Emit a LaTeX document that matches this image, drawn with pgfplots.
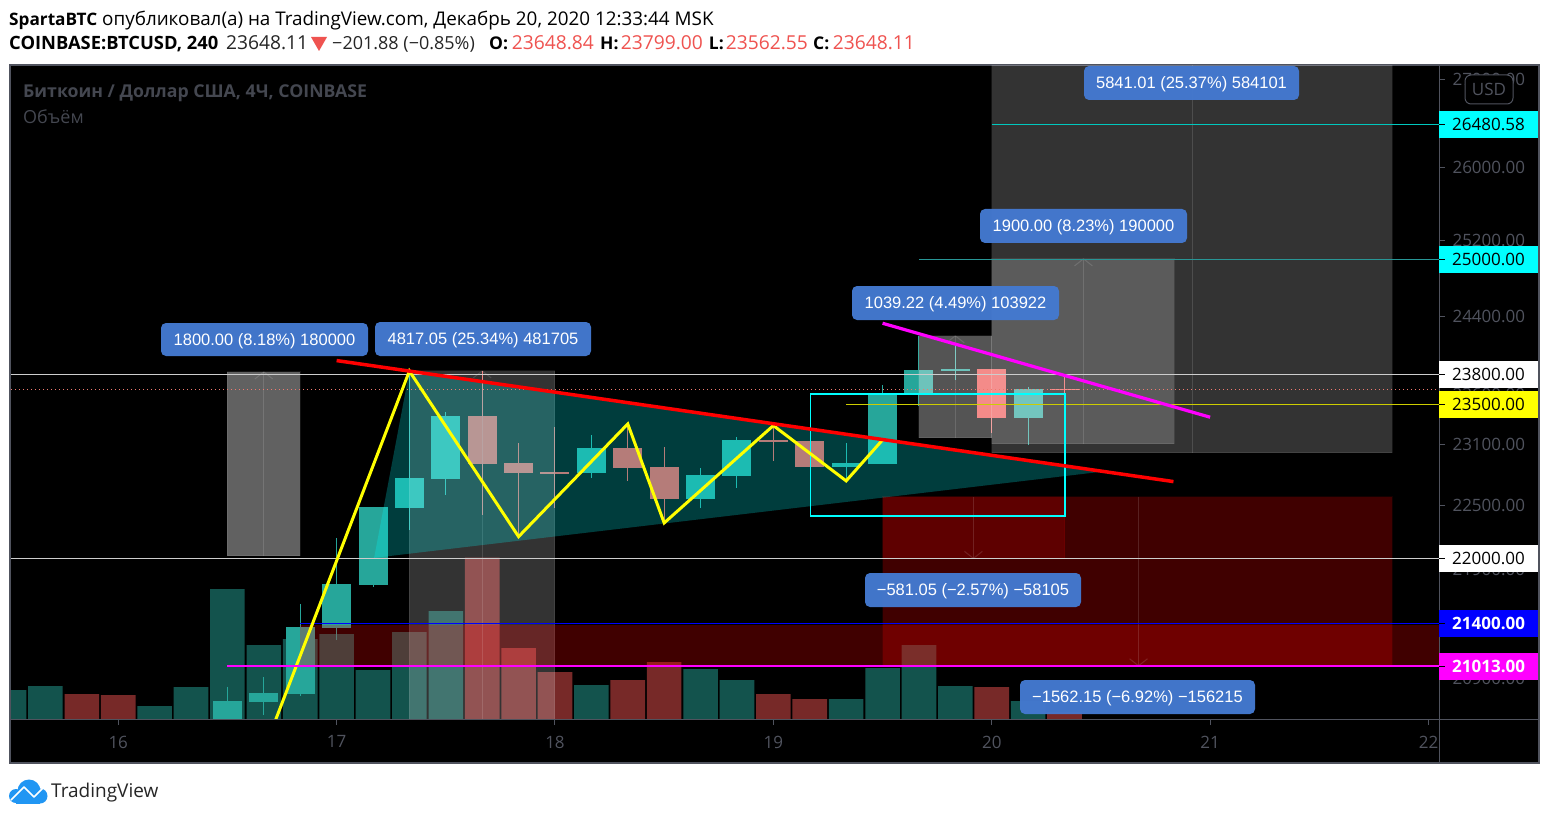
\documentclass[border=0pt]{standalone}
\usepackage{fontspec}
\usepackage{pgfplots}
\pgfplotsset{compat=1.18}
\setmainfont{Open Sans}
\newfontfamily\lib{Liberation Sans}
\newcommand\fs[1]{\fontsize{#1}{#1}\selectfont}
\definecolor{upc}{HTML}{26A69A}
\definecolor{dnc}{HTML}{EF5350}
\definecolor{volup}{HTML}{13534D}
\definecolor{voldn}{HTML}{772928}
\definecolor{fr}{HTML}{50535E}
\definecolor{lbl}{HTML}{4479D0}
\definecolor{hdr}{HTML}{EF5350}
\definecolor{dot}{HTML}{EF7A70}
\definecolor{cy}{RGB}{0,255,255}
\definecolor{mg}{RGB}{255,0,255}
\definecolor{yl}{RGB}{255,255,0}
\definecolor{bl}{RGB}{0,0,255}
\definecolor{rd}{RGB}{255,0,0}
\definecolor{logo}{HTML}{2196F3}
\definecolor{lvlA}{RGB}{0,200,190}
\definecolor{lvlB}{RGB}{40,150,150}
\definecolor{lvlG}{RGB}{205,205,205}
\definecolor{lvlY}{RGB}{205,205,0}
% prices are in thousands of USD
% one candle: day, open, close, high, low, colour
\newcommand\candle[6]{%
  \pgfmathsetmacro\xa{#1-0.0664}\pgfmathsetmacro\xb{#1+0.0664}%
  \addplot[draw=#6,line width=1pt] coordinates {(#1,#4)(#1,#5)};
  \addplot[fill=#6,draw=none] coordinates {(\xa,#2)(\xb,#2)(\xb,#3)(\xa,#3)} --cycle;
}
% translucent measure box: x0,x1,p0,p1,colour,opacity
\newcommand\zone[6]{%
  \addplot[fill=#5,fill opacity=#6,draw=#5,draw opacity=0.08,line width=1pt] coordinates {(#1,#3)(#2,#3)(#2,#4)(#1,#4)} --cycle;
}
% centre line and chevron of a measure box: x, from, to, chevron side price
\newcommand\measure[4]{%
  \pgfmathsetmacro\xa{#1-0.041}\pgfmathsetmacro\xb{#1+0.041}%
  \addplot[draw=white,draw opacity=0.13,line width=1pt] coordinates {(#1,#2)(#1,#3)};
  \addplot[draw=white,draw opacity=0.13,line width=1pt] coordinates {(\xa,#4)(#1,#3)(\xb,#4)};
}
\newcommand\lab[5]{%
  \fill[lbl,rounded corners=5pt,fill opacity=0.97] (#1,#3) rectangle (#2,#4);
  \node[white,font=\lib\fs{16.5},inner sep=0pt] at ({(#1+#2)/2},{(#3+#4)/2+1.5}) {#5};
}
\newcommand\tagbox[5]{% y, fill, text colour, text, bold
  \fill[#2] (1439,#1-13.5) rectangle (1538,#1+13.5);
  \draw[black,line width=1pt] (1439,#1) -- (1445,#1);
  \node[#3,anchor=west,font=\fs{17}#5,inner sep=0pt] at (1452,#1) {#4};
}
\begin{document}
\begin{tikzpicture}
\begin{scope}[x=1pt,y=-1pt]
  \path (0,0) rectangle (1549,818);
  \fill[white] (0,0) rectangle (1549,818);
  \fill[black,draw=fr,line width=2pt] (10,65) rectangle (1539,763);
\end{scope}
% volume pane
\begin{axis}[at={(11pt,-719.5pt)},anchor=south west,scale only axis,width=1428pt,height=653.5pt,
  xmin=15.509,xmax=22.048,ymin=0,ymax=653.5,hide axis,clip=true]
\addplot[ybar,bar shift=0pt,bar width=34.6pt,fill=volup,draw=none] coordinates {
 (15.5,29.3)(15.6667,33.3)(16.1667,13.3)(16.3333,32.3)(16.5,130.3)(16.6667,74.3)(16.8333,80.3)
 (17,85.3)(17.1667,49.3)(17.3333,87.3)(17.5,108.3)(18.1667,34.3)(18.6667,50.3)(18.8333,39.3)
 (19.3333,20.3)(19.5,51.3)(19.6667,74.3)(19.8333,33.3)(20.1667,18.3)};
\addplot[ybar,bar shift=0pt,bar width=34.6pt,fill=voldn,draw=none] coordinates {
 (15.8333,25.3)(16,24.3)(17.6667,162)(17.8333,71.3)(18,47.3)(18.3333,39.3)(18.5,57.3)
 (19,25.3)(19.1667,20.3)(20,32.3)(20.3333,7.3)};
\end{axis}
% price pane
\begin{axis}[at={(11pt,-719.5pt)},anchor=south west,scale only axis,width=1428pt,height=653.5pt,
  xmin=15.509,xmax=22.048,ymode=log,ymin=20.537,ymax=27.155,clip=true,
  axis x line*=bottom,axis y line*=right,axis line style={draw=fr,line width=1pt},
  xtick={16,17,18,19,20,21,22},xticklabels={16,17,18,19,20,21,22},
  ytick={27,26,25.2,24.4,23.6,23.1,22.5,21.9,20.9},
  yticklabels={27000.00,26000.00,25200.00,24400.00,23600.00,23100.00,22500.00,21900.00,20900.00},
  yminorticks=false,xminorticks=false,
  tick align=outside,major tick length=6pt,tick style={draw=fr,line width=1pt},
  tick label style={font=\fs{17},text=fr},
  xticklabel style={yshift=-7pt},yticklabel style={xshift=4pt}]
% candles
\candle{16.5}{20.500}{20.700}{20.827}{20.500}{upc}
\candle{16.6667}{20.691}{20.771}{20.914}{20.577}{upc}
\candle{16.8333}{20.762}{21.365}{21.576}{20.745}{upc}
\candle{17}{21.358}{21.762}{22.194}{21.247}{upc}
\candle{17.1667}{21.752}{22.490}{22.490}{21.734}{upc}
\candle{17.3333}{22.480}{22.770}{23.835}{22.270}{upc}
\candle{17.5}{22.760}{23.381}{23.421}{22.605}{upc}
\candle{17.6667}{23.381}{22.906}{23.835}{22.413}{dnc}
\candle{17.8333}{22.916}{22.819}{23.113}{22.203}{dnc}
\candle{18}{22.829}{22.812}{23.272}{22.480}{dnc}
\candle{18.1667}{22.819}{23.064}{23.192}{22.770}{upc}
\candle{18.3333}{23.064}{22.868}{23.292}{22.741}{dnc}
\candle{18.5}{22.877}{22.567}{23.074}{22.336}{dnc}
\candle{18.6667}{22.567}{22.799}{22.868}{22.480}{upc}
\candle{18.8333}{22.790}{23.143}{23.172}{22.673}{upc}
\candle{19}{23.143}{23.123}{23.292}{22.936}{dnc}
\candle{19.1667}{23.133}{22.877}{23.133}{22.877}{dnc}
\candle{19.3333}{22.877}{22.916}{23.113}{22.751}{upc}
\candle{19.5}{22.906}{23.602}{23.693}{22.906}{upc}
\candle{19.6667}{23.602}{23.846}{24.195}{23.481}{upc}
\candle{19.8333}{23.835}{23.856}{24.102}{23.744}{upc}
\candle{20}{23.856}{23.361}{23.856}{23.212}{dnc}
\candle{20.1667}{23.361}{23.653}{23.673}{23.093}{upc}
\candle{20.3333}{23.653}{23.643}{23.799}{23.562}{dnc}
% measure boxes
\zone{16.4998}{16.834}{23.825}{22.024}{white}{0.38}
\zone{17.3333}{18}{23.835}{20.400}{white}{0.2}
\zone{19.6667}{20}{24.195}{23.163}{white}{0.33}
\zone{20}{20.8365}{25.005}{23.103}{white}{0.2}
\zone{20}{21.835}{27.500}{23.015}{white}{0.2}
\zone{19.5}{21.835}{22.586}{21.013}{rd}{0.25}
\zone{19.5}{20.3333}{22.586}{22.000}{rd}{0.16}
\addplot[fill=rd,fill opacity=0.25,draw=none] coordinates {(16.833,21.384)(22.05,21.384)(22.05,21.013)(16.833,21.013)} --cycle;
\measure{16.6667}{22.024}{23.825}{23.754}
\measure{17.6667}{20.400}{23.835}{23.764}
\measure{19.8333}{23.163}{24.195}{24.123}
\measure{20.42}{23.103}{25.005}{24.930}
\measure{20.919}{23.015}{27.500}{27.400}
\measure{19.916}{22.586}{22.000}{22.066}
\measure{20.672}{22.586}{21.013}{21.076}
% triangle
\addplot[fill=cy,fill opacity=0.24,draw=none] coordinates {(17.3333,23.835)(20.4975,22.829)(17.1718,22.005)} --cycle;
% horizontal levels
\addplot[draw=lvlA,line width=1pt] coordinates {(20,26.48058)(22.05,26.48058)};
\addplot[draw=lvlB,line width=1pt] coordinates {(19.6667,25)(22.05,25)};
\addplot[draw=lvlG,line width=1pt] coordinates {(15.509,23.8)(22.05,23.8)};
\addplot[draw=lvlG,line width=1pt] coordinates {(15.509,22)(22.05,22)};
\addplot[draw=dot,line width=1pt,dash pattern=on 1pt off 3pt] coordinates {(15.509,23.64811)(22.05,23.64811)};
\addplot[draw=lvlY,line width=1pt] coordinates {(19.3333,23.5)(22.05,23.5)};
\addplot[draw=bl,line width=1pt] coordinates {(16.833,21.4)(22.05,21.4)};
% cyan frame
\addplot[draw=cy,line width=1.2pt] coordinates {(19.17,23.602)(20.335,23.602)(20.335,22.403)(19.17,22.403)} --cycle;
% trend lines
\addplot[draw=yl,line width=3pt,line join=miter] coordinates {(16.7215,20.537)(17.3333,23.835)(17.8333,22.206)(18.3333,23.301)(18.5,22.336)(19,23.285)(19.3333,22.741)(19.5,23.143)};
\addplot[draw=rd,line width=3.5pt] coordinates {(17,23.941)(20.832,22.734)};
\addplot[draw=mg,line width=3.2pt] coordinates {(19.5,24.326)(21,23.368)};
\addplot[draw=mg,draw opacity=1,line width=1.6pt] coordinates {(16.5,21.009)(22.05,21.009)};
\end{axis}
\begin{scope}[x=1pt,y=-1pt]
  % pane dividers
  \draw[fr,line width=1pt] (1439,66) -- (1439,763);
  \draw[fr,line width=1pt] (11,719.5) -- (1539,719.5);
  % USD badge
  \draw[fr,fill=black,rounded corners=6pt,line width=1pt] (1465,75) rectangle (1513,104);
  \node[fr,font=\fs{17},inner sep=0pt] at (1489,89) {USD};
  % price tags
  \tagbox{124.5}{cy}{black}{26480.58}{}
  \tagbox{259.5}{cy}{black}{25000.00}{}
  \tagbox{374.5}{white}{black}{23800.00}{}
  \tagbox{404.5}{yl}{black}{23500.00}{}
  \tagbox{558.5}{white}{black}{22000.00}{}
  \tagbox{623.5}{bl}{white}{21400.00}{\bfseries}
  \tagbox{666.5}{mg}{white}{21013.00}{\bfseries}
  % measure labels
  \lab{161}{368}{323}{356}{1800.00 (8.18\%) 180000}
  \lab{375}{591}{322}{356}{4817.05 (25.34\%) 481705}
  \lab{852}{1059}{286}{320}{1039.22 (4.49\%) 103922}
  \lab{980}{1187}{209}{243}{1900.00 (8.23\%) 190000}
  \lab{1084}{1299}{66}{100}{5841.01 (25.37\%) 584101}
  \lab{865}{1081}{573}{607}{−581.05 (−2.57\%) −58105}
  \lab{1020}{1255}{680}{714}{−1562.15 (−6.92\%) −156215}
  % pane title
  \node[anchor=base west,inner sep=0pt,text=fr!85!black,font=\bfseries\fs{17.7}] at (23,98) {Биткоин / Доллар США, 4Ч, COINBASE};
  \node[anchor=base west,inner sep=0pt,text=fr!85!black,font=\fs{18}] at (23,124) {Объём};
  % header
  \node[anchor=base west,inner sep=0pt,text=black,font=\bfseries\fs{17.2}] at (9,25.5) {SpartaBTC};
  \node[anchor=base west,inner sep=0pt,text=black,font=\fs{18.85}] at (102,25.5) {опубликовал(а) на TradingView.com, Декабрь 20, 2020 12:33:44 MSK};
  \node[anchor=base west,inner sep=0pt,text=black,font=\bfseries\fs{18.35}] at (9,50) {COINBASE:BTCUSD, 240};
  \node[anchor=base west,inner sep=0pt,text=black!85,font=\fs{19.2}] at (226,50) {23648.11};
  \fill[hdr] (311,37) -- (327,37) -- (319,51) -- cycle;
  \node[anchor=base west,inner sep=0pt,text=black!85,font=\fs{18}] at (332,50) {−201.88 (−0.85\%)};
  \node[anchor=base west,inner sep=0pt,text=black,font=\bfseries\fs{17.5}] at (489,50) {O:};
  \node[anchor=base west,inner sep=0pt,text=hdr,font=\fs{19.2}] at (511.7,50) {23648.84};
  \node[anchor=base west,inner sep=0pt,text=black,font=\bfseries\fs{17.5}] at (600,50) {H:};
  \node[anchor=base west,inner sep=0pt,text=hdr,font=\fs{19.2}] at (620.7,50) {23799.00};
  \node[anchor=base west,inner sep=0pt,text=black,font=\bfseries\fs{17.5}] at (708.7,50) {L:};
  \node[anchor=base west,inner sep=0pt,text=hdr,font=\fs{19.2}] at (725.7,50) {23562.55};
  \node[anchor=base west,inner sep=0pt,text=black,font=\bfseries\fs{17.5}] at (813,50) {C:};
  \node[anchor=base west,inner sep=0pt,text=hdr,font=\fs{19.2}] at (832.7,50) {23648.11};
  % logo
  \fill[logo] (29,791) circle (11.5);
  \fill[logo] (16,796) circle (7);
  \fill[logo] (40,796) circle (7.5);
  \fill[logo] (16,796) rectangle (40,803.5);
  \draw[white,line width=1.6pt,line join=round] (11,800) -- (24,787) -- (34,797) -- (44,787);
  \node[anchor=base west,inner sep=0pt,text=black!85,font=\fs{19}] at (51,797) {TradingView};
\end{scope}
\end{tikzpicture}
\end{document}
